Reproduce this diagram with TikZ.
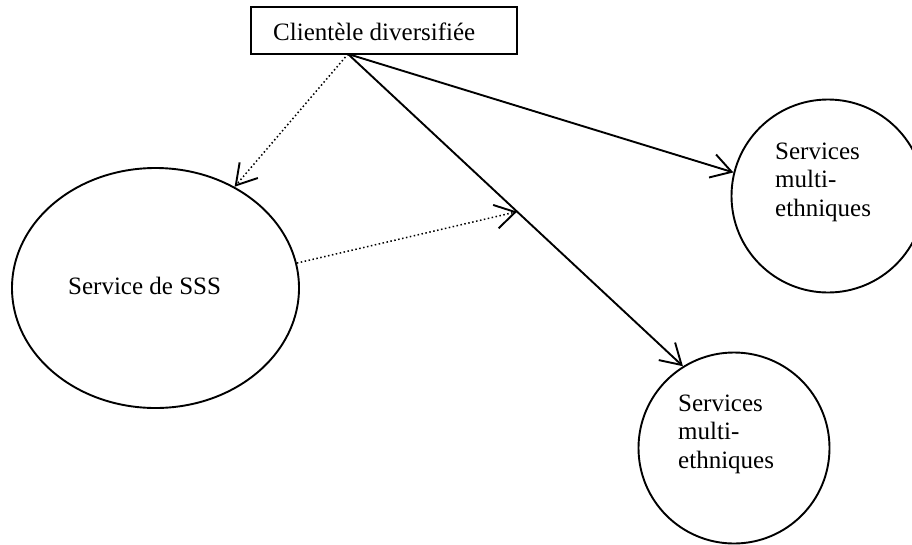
\documentclass[tikz,border=0pt]{standalone}
\usepackage{fontspec}
\setmainfont{Liberation Serif}
\usetikzlibrary{arrows.meta,shapes.geometric}
\begin{document}
\begin{tikzpicture}[x=1pt,y=-1pt,
  font=\fontsize{25}{28.5}\selectfont,
  shapeline/.style={draw=black,line width=1.9pt},
  labeltext/.style={inner sep=0pt,anchor=base west,align=left},
  linkarrow/.style={line width=1.9pt,-{Straight Barb[length=20pt,width=24pt,line width=1.9pt]}},
  dotarrow/.style={line width=1.5pt,dash pattern=on 1.5pt off 2.5pt,
    -{Straight Barb[length=20pt,width=24pt,line width=1.9pt]}}]
  \clip (0,0) rectangle (912,544);
  \fill[white] (0,0) rectangle (912,544);

  % source box
  \node[shapeline,rectangle,minimum width=266pt,minimum height=47pt,inner sep=0pt] (client) at (384,30.5) {};
  \node[labeltext] (clientl) at (273,40) {Clientèle diversifiée};
  \coordinate (src) at (348,54);

  % service ellipse
  \node[shapeline,ellipse,minimum width=287pt,minimum height=240pt,inner sep=0pt] (sss) at (155.5,288) {};
  \node[labeltext] (sssl) at (68,294) {Service de SSS};

  % multi-ethnic services (base anchor sits on the last line)
  \node[shapeline,circle,minimum size=193pt,inner sep=0pt] (m1) at (828,196) {};
  \node[labeltext] (m1l) at (775,216) {Services\\multi-\\ethniques};
  \node[shapeline,circle,minimum size=191pt,inner sep=0pt] (m2) at (734,448) {};
  \node[labeltext] (m2l) at (678,468) {Services\\multi-\\ethniques};

  % connectors
  \draw[linkarrow] (src) -- (m1.166);
  \draw[linkarrow] (src) -- (m2.122);
  \path (src) -- (m2.122) coordinate[pos=0.505] (mid);
  \draw[dotarrow] (src) -- (sss.52);
  \draw[dotarrow] (sss.10) -- (mid);
\end{tikzpicture}
\end{document}
